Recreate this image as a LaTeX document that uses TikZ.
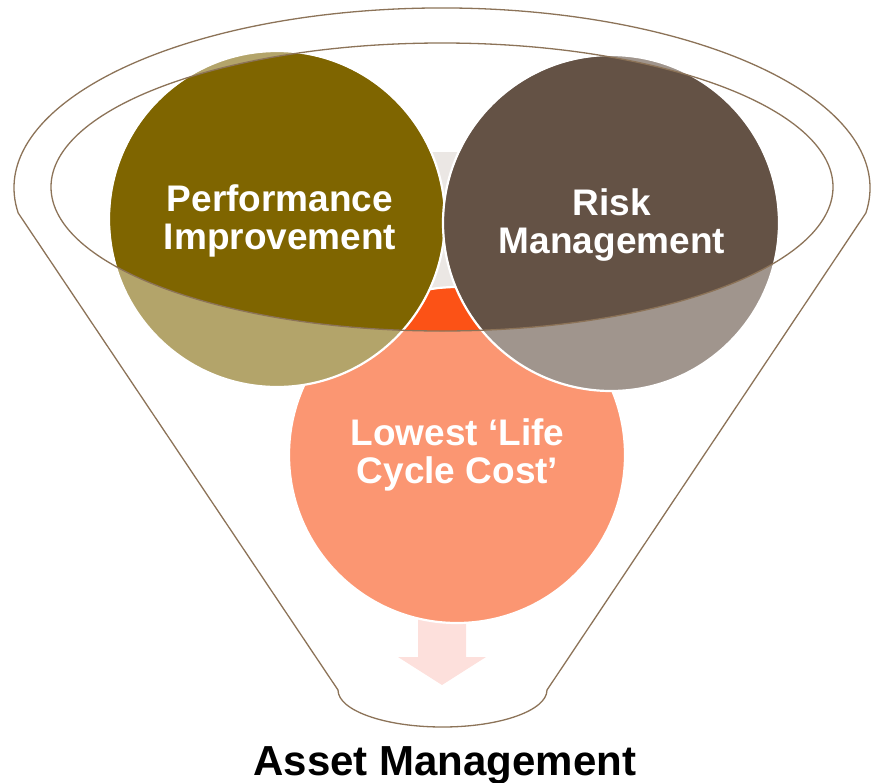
\documentclass[tikz,border=0pt]{standalone}
\usepackage{fontspec}
\setmainfont{Liberation Sans}
\definecolor{olivedark}{HTML}{7F6500}
\definecolor{olivelight}{HTML}{B3A46A}
\definecolor{riskdark}{HTML}{645245}
\definecolor{risklight}{HTML}{A0958D}
\definecolor{orangedark}{HTML}{FC5216}
\definecolor{orangelight}{HTML}{FB9672}
\definecolor{arrowpink}{HTML}{FDE0DC}
\definecolor{arrowgrey}{HTML}{EBE7E4}
\definecolor{funnelline}{HTML}{8C7358}
\tikzset{
  ball/.style={circle, minimum size=336pt, inner sep=0pt},
  ballborder/.style={draw=white, line width=2.2pt},
  balltext/.style={anchor=base, inner sep=0pt, text=white, font=\bfseries\fontsize{37pt}{38pt}\selectfont},
  titletext/.style={anchor=base, inner sep=0pt, text=black, font=\bfseries\fontsize{42pt}{44pt}\selectfont},
  funnel/.style={draw=funnelline, line width=1.3pt, line join=round},
}
\begin{document}
\begin{tikzpicture}[x=1pt,y=-1pt]
\useasboundingbox (0,0) rectangle (875,782);
% arrow
\def\arrowpath{(418,152) -- (466,152) -- (466,657) -- (486,657) -- (442,685) -- (398,657) -- (418,657) -- cycle}
\fill[arrowpink] \arrowpath;
\begin{scope}
  \clip (442,187) ellipse [x radius=391pt, y radius=144pt];
  \fill[arrowgrey] \arrowpath;
\end{scope}
% circles
\node[ball, fill=orangelight] (low) at (457,455) {};
\begin{scope}
  \clip (442,187) ellipse [x radius=391pt, y radius=144pt];
  \fill[orangedark] (low.center) circle[radius=167pt];
\end{scope}
\draw[ballborder] (low.center) circle[radius=168pt];

\node[ball, fill=olivelight] (perf) at (277,219) {};
\begin{scope}
  \clip (442,187) ellipse [x radius=391pt, y radius=144pt];
  \fill[olivedark] (perf.center) circle[radius=167pt];
\end{scope}
\draw[ballborder] (perf.center) circle[radius=168pt];

\node[ball, fill=risklight] (risk) at (611,223) {};
\begin{scope}
  \clip (442,187) ellipse [x radius=391pt, y radius=144pt];
  \fill[riskdark] (risk.center) circle[radius=167pt];
\end{scope}
\draw[ballborder] (risk.center) circle[radius=168pt];

% funnel
\draw[funnel] (442,187) ellipse [x radius=391pt, y radius=144pt];
\coordinate (lc) at (18.2,213);
\coordinate (rb) at (547,690);
\draw[funnel] (lc) arc[start angle=188, end angle=-8, x radius=428pt, y radius=180pt]
  -- (rb) arc[start angle=0, end angle=-180, x radius=104.5pt, y radius=37pt] -- cycle;

% texts
\node[balltext] (p1) at (280,211) {Performance};
\node[balltext] (p2) at (280,249) {Improvement};
\node[balltext] (r1) at (612,215) {Risk};
\node[balltext] (r2) at (612,253) {Management};
\node[balltext] (l1) at (457.5,445) {Lowest ‘Life};
\node[balltext] (l2) at (457.5,483) {Cycle Cost’};
\node[titletext] (title) at (445,775) {Asset Management};
\end{tikzpicture}
\end{document}
